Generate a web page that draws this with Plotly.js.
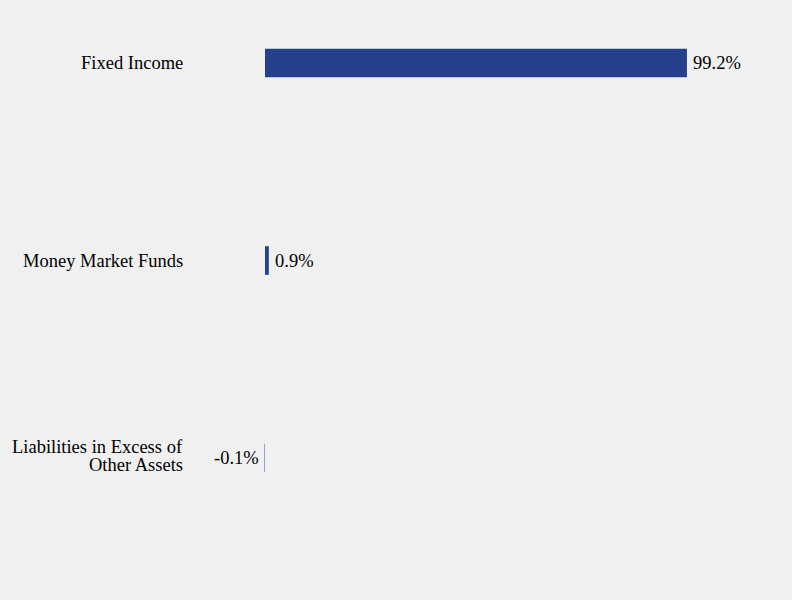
<!DOCTYPE html>
<html>
<head>
<meta charset="utf-8">
<script src="https://cdn.plot.ly/plotly-3.0.1.min.js"></script>
<style>html,body{margin:0;padding:0;background:#f0f0f0;}#chart{width:792px;height:600px;}</style>
</head>
<body>
<div id="chart"></div>
<script>
const categories = ["Fixed Income", "Money Market Funds", "Liabilities in Excess of Other Assets"];
const labelLines = [["Fixed Income"], ["Money Market Funds"], ["Liabilities in Excess of", "Other Assets"]];
const values = [99.2, 0.9, -0.1];
const labels = ["99.2%", "0.9%", "-0.1%"];

const FONT = "Liberation Serif, Times New Roman, serif";
const FS = 18.5;

const trace = {
  type: "bar",
  orientation: "h",
  y: categories,
  x: values,
  marker: {color: "#26408b", line: {width: 0}},
  width: 0.145,
  hoverinfo: "skip"
};

const annotations = [];
categories.forEach((c, i) => {
  const lines = labelLines[i];
  const n = lines.length;
  lines.forEach((ln, j) => {
    annotations.push({
      xref: "paper", yref: "y", x: 0, y: c,
      text: ln, showarrow: false, xanchor: "right", yanchor: "middle",
      xshift: -5, yshift: n > 1 ? (11.5 - j * 18) : 0,
      font: {family: FONT, size: FS, color: "#000"}
    });
  });
  const v = values[i];
  annotations.push({
    xref: "x", yref: "y", x: v, y: c,
    text: labels[i], showarrow: false,
    xanchor: v >= 0 ? "left" : "right", yanchor: "middle",
    xshift: v >= 0 ? 4 : -4, yshift: 0,
    font: {family: FONT, size: FS, color: "#000"}
  });
});

const layout = {
  width: 792, height: 600,
  paper_bgcolor: "#f0f0f0", plot_bgcolor: "#f0f0f0",
  margin: {l: 190, r: 0, t: 0, b: 0},
  showlegend: false,
  font: {family: FONT, size: FS, color: "#000"},
  xaxis: {range: [-17.63, 123.9], visible: false, showgrid: false, zeroline: false, fixedrange: true},
  yaxis: {
    range: [2.719, -0.319],
    showgrid: false, zeroline: false, showline: false, ticks: "",
    showticklabels: false,
    fixedrange: true
  },
  annotations: annotations
};

Plotly.newPlot("chart", [trace], layout, {displayModeBar: false, staticPlot: true});
</script>
</body>
</html>
